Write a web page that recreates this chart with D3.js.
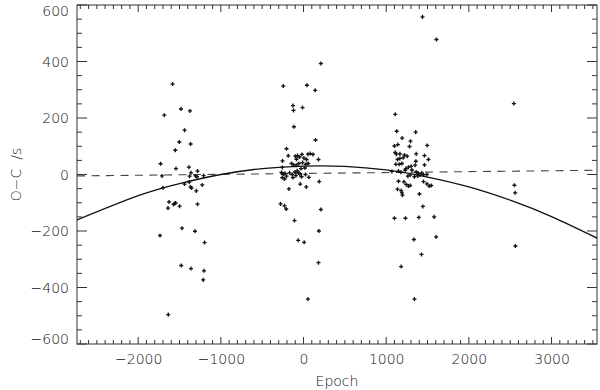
<!DOCTYPE html>
<html>
<head>
<meta charset="utf-8">
<script src="https://cdn.jsdelivr.net/npm/d3@7"></script>
<style>
  body { margin: 0; background: #fff; }
  svg { display: block; }
  text { font-family: "DejaVu Sans", sans-serif; fill: #111; }
</style>
</head>
<body>
<div id="chart"></div>
<script>
const epochs = [
  // group near -1500
  -1584, -1684, -1482, -1373, -1439, -1503, -1366, -1551, -1729, -1543, -1386, -1361, -1282,
  -1712, -1378, -1306, -1289, -1209, -1700, -1439, -1382, -1366, -1354, -1297, -1225,
  -1627, -1639, -1572, -1560, -1548, -1499, -1282, -1470, -1736, -1313, -1197, -1479,
  -1361, -1204, -1213, -1636,
  // group near 0
  210, -245, 41, 141, -128, -121, -12, -116, 145, -206, -254, -185, 53, 81, 114, 181,
  -100, -73, -48, -19, -85, 5, 36, -145, -121, -88, -56, -12, 29, 57, 17, -31, -258,
  -266, -245, -225, -206, -258, -230, -169, -137, -104, -76, -56, -92, -128, -44, -24,
  24, 65, -177, -40, 33, 190, -278, -230, -209, 210, -109, 186, -64, 8, 181, 53,
  // group near 1300
  1439, 1608, 1109, 1127, 1357, 1193, 1294, 1100, 1141, 1282, 1496, 1109, 1124, 1166,
  1221, 1254, 1363, 1463, 1137, 1166, 1205, 1359, 1511, 1117, 1157, 1190, 1269, 1302,
  1238, 1350, 1463, 1069, 1149, 1178, 1230, 1311, 1363, 1390, 1411, 1431, 1451, 1383,
  1492, 1262, 1290, 1342, 1149, 1214, 1242, 1269, 1290, 1451, 1492, 1520, 1544, 1137,
  1181, 1190, 1197, 1402, 1444, 1100, 1233, 1395, 1580, 1335, 1604, 1427, 1181, 1342,
  // group near 2550
  2544, 2551, 2560, 2563
];
const ocValues = [
  320, 210, 232, 225, 157, 115, 108, 86, 38, 21, 26, 6, 12,
  -5, -6, -5, -8, -4, -47, -34, -27, -44, -48, -58, -37,
  -97, -119, -106, -103, -101, -112, -105, -190, -216, -201, -241, -322,
  -333, -341, -373, -496,
  393, 313, 316, 298, 244, 227, 237, 169, 122, 91, 48, 66, 72, 74, 71, 53,
  65, 67, 62, 71, 54, 58, 53, 39, 34, 33, 39, 42, 36, 39, 23, 21, 25,
  7, 1, 4, -6, -11, -16, 6, 0, 9, 13, 6, -4, -11, 1, -8,
  0, -10, -51, -34, -44, -25, -104, -111, -122, -124, -163, -200, -233, -240, -312, -441,
  558, 478, 213, 153, 150, 129, 118, 101, 106, 99, 103, 78, 72, 73,
  69, 65, 73, 67, 53, 57, 59, 47, 53, 36, 36, 39, 26, 29,
  21, 33, 34, 11, 12, 8, 15, 16, 9, 4, -2, 6, -1, -5,
  0, -6, -2, -8, -24, -26, -35, -41, -39, -25, -33, -41, -39, -52,
  -57, -65, -73, -69, -113, -155, -155, -152, -150, -230, -221, -283, -326, -441,
  251, -38, -65, -253
];

// quadratic fit curve
const fitEpochs = [-2740, -2000, -1500, -1000, -500, 0, 500, 1000, 1500, 2000, 2500, 3000, 3550];
const fitValues = [-161, -75, -32, 0, 21, 30, 29, 16, -9, -44, -91, -149, -225];

// linear (dashed) fit
const linEpochs = [-2740, 3550];
const linValues = [-5, 15];

const xTicks = [-2000, -1000, 0, 1000, 2000, 3000];
const yTicks = [-600, -400, -200, 0, 200, 400, 600];

const width = 600, height = 390;
const margin = { top: 5, right: 3, bottom: 46, left: 77 };
const plotW = width - margin.left - margin.right;
const plotH = height - margin.top - margin.bottom;

const x = d3.scaleLinear().domain([-2740, 3550]).range([0, plotW]);
const y = d3.scaleLinear().domain([-600, 600]).range([plotH, 0]);

const svg = d3.select("#chart").append("svg")
  .attr("width", width)
  .attr("height", height);

const g = svg.append("g")
  .attr("transform", `translate(${margin.left},${margin.top})`);

g.append("clipPath").attr("id", "clip")
  .append("rect").attr("width", plotW).attr("height", plotH);

const fmt = d => d < 0 ? "\u2212" + Math.abs(d) : String(d);

// minor ticks
const xMinor = d3.range(-2700, 3501, 100);
const yMinor = d3.range(-600, 601, 50);

// bottom axis labels
const xAxisB = d3.axisBottom(x).tickValues(xTicks).tickFormat(fmt).tickSize(0).tickPadding(10);
g.append("g").attr("class", "xaxis")
  .attr("transform", `translate(0,${plotH})`)
  .call(xAxisB)
  .call(a => a.select(".domain").remove())
  .selectAll("text").style("font-size", "14px").style("font-weight", 300).attr("fill", "#111");

const ticks = g.append("g").attr("stroke", "#333").attr("stroke-width", 1);
xMinor.forEach(v => {
  const major = v % 1000 === 0;
  const len = major ? 7 : 4;
  ticks.append("line").attr("x1", x(v)).attr("x2", x(v)).attr("y1", plotH).attr("y2", plotH - len);
  ticks.append("line").attr("x1", x(v)).attr("x2", x(v)).attr("y1", 0).attr("y2", len);
});
yMinor.forEach(v => {
  const major = v % 200 === 0;
  const len = major ? 10 : 5;
  ticks.append("line").attr("x1", 0).attr("x2", len).attr("y1", y(v)).attr("y2", y(v));
  ticks.append("line").attr("x1", plotW).attr("x2", plotW - len).attr("y1", y(v)).attr("y2", y(v));
});

const yAxisL = d3.axisLeft(y).tickValues(yTicks).tickFormat(fmt).tickSize(0).tickPadding(8);
g.append("g").attr("class", "yaxis")
  .call(yAxisL)
  .call(a => a.select(".domain").remove())
  .selectAll("text")
  .style("font-size", "14px").style("font-weight", 300).attr("fill", "#111")
  .attr("dy", d => d === 600 ? "0.75em" : d === -600 ? "-0.05em" : "0.35em");

// frame
g.append("rect")
  .attr("width", plotW).attr("height", plotH)
  .attr("fill", "none").attr("stroke", "#333").attr("stroke-width", 1);

// fit lines
const plot = g.append("g").attr("clip-path", "url(#clip)");
const line = d3.line().x(d => x(d[0])).y(d => y(d[1]));

plot.append("path")
  .datum(linEpochs.map((e, i) => [e, linValues[i]]))
  .attr("d", line)
  .attr("fill", "none").attr("stroke", "#444").attr("stroke-width", 1.1)
  .attr("stroke-dasharray", "8,6.5");

plot.append("path")
  .datum(fitEpochs.map((e, i) => [e, fitValues[i]]))
  .attr("d", line.curve(d3.curveNatural))
  .attr("fill", "none").attr("stroke", "#111").attr("stroke-width", 1.3);

// points
const sym = d3.symbol().type(d3.symbolCross).size(9);
plot.selectAll(".pt")
  .data(epochs.map((e, i) => [e, ocValues[i]]))
  .enter().append("path")
  .attr("class", "pt")
  .attr("d", sym)
  .attr("transform", d => `translate(${x(d[0])},${y(d[1])})`)
  .attr("fill", "#111");

// axis titles
svg.append("text")
  .attr("x", margin.left + plotW / 2)
  .attr("y", 386)
  .attr("text-anchor", "middle")
  .attr("fill", "#111")
  .style("font-size", "14px").style("font-weight", 300)
  .text("Epoch");

svg.append("text")
  .attr("transform", `translate(21,${margin.top + plotH / 2}) rotate(-90)`)
  .attr("text-anchor", "middle")
  .attr("fill", "#111")
  .style("font-size", "14px").style("font-weight", 300)
  .text("O\u2212C\u00a0\u00a0/s");
</script>
</body>
</html>
